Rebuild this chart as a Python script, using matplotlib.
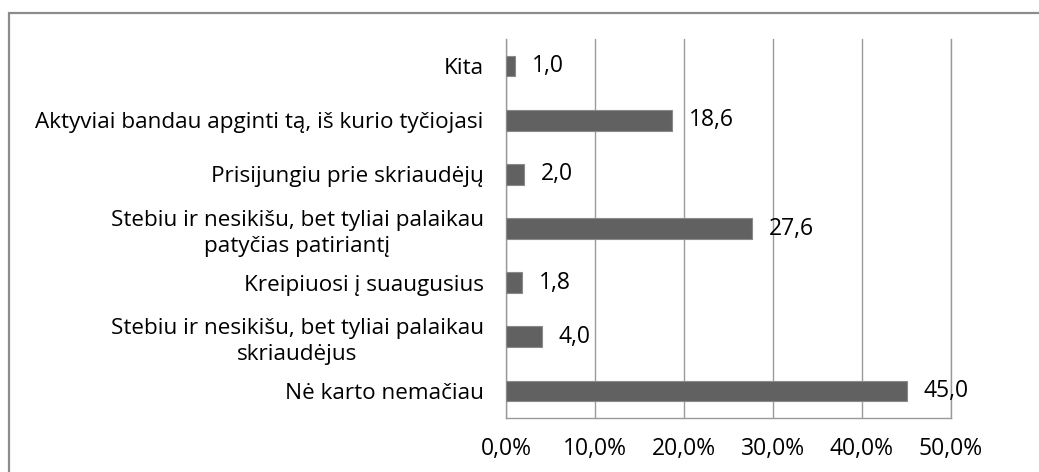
import matplotlib
matplotlib.use("Agg")
import matplotlib.pyplot as plt
from matplotlib.patches import Rectangle

# data, top to bottom as in the picture
categories = [
    "Kita",
    "Aktyviai bandau apginti tą, iš kurio tyčiojasi",
    "Prisijungiu prie skriaudėjų",
    "Stebiu ir nesikišu, bet tyliai palaikau\npatyčias patiriantį",
    "Kreipiuosi į suaugusius",
    "Stebiu ir nesikišu, bet tyliai palaikau\nskriaudėjus",
    "Nė karto nemačiau",
]
values = [1.0, 18.6, 2.0, 27.6, 1.8, 4.0, 45.0]
xticks = [0, 10, 20, 30, 40, 50]

plt.rcParams['font.family'] = ['Open Sans', 'DejaVu Sans']

fig = plt.figure(figsize=(10.39, 4.72), dpi=100)
ax = fig.add_axes([506 / 1039, 1 - 418 / 472, (951 - 506) / 1039, (418 - 39) / 472])

# outer chart border (only left and top fall inside the picture)
fig.patches.append(Rectangle((9 / 1039, -0.2), 1.2, 1.2 - 13 / 472,
                             transform=fig.transFigure, fill=False,
                             edgecolor='#8c8c8c', linewidth=1.6))

ypos = list(range(len(categories)))[::-1]
ax.barh(ypos, values, height=0.38, color='#616161', edgecolor='#8a8a8a',
        linewidth=0.8, zorder=3)

for y, v in zip(ypos, values):
    ax.text(v + 1.9, y, f"{v:.1f}".replace('.', ','), va='center', ha='left',
            fontsize=16.5, color='black', zorder=4)

ax.set_xlim(0, 50)
ax.set_ylim(-0.5, len(categories) - 0.5)
ax.set_xticks(xticks)
ax.set_xticklabels([f"{t:.1f}%".replace('.', ',') for t in xticks], fontsize=16.5)
ax.set_yticks(ypos)
ax.set_yticklabels(categories, fontsize=16.2, multialignment='center',
                   linespacing=1.3)
ax.tick_params(axis='both', length=0)
ax.tick_params(axis='x', pad=14)
ax.tick_params(axis='y', pad=16)

ax.grid(axis='x', color='#9a9a9a', linewidth=1.0, zorder=0)
ax.spines['top'].set_visible(False)
for side in ['left', 'bottom', 'right']:
    ax.spines[side].set_color('#9a9a9a')
    ax.spines[side].set_linewidth(1.0)

fig.savefig("out.png", dpi=100)
